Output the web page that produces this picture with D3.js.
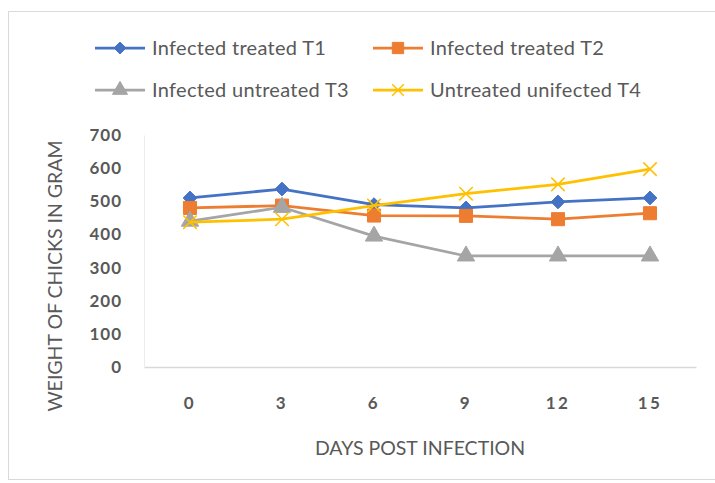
<!DOCTYPE html>
<html><head><meta charset="utf-8">
<script src="https://cdn.jsdelivr.net/npm/d3@7"></script>
<style>body{margin:0;background:#fff;} text{font-family:Lato, "Open Sans", sans-serif;}</style>
</head><body>
<svg id="c" width="715" height="483"></svg>
<script>
const days = ["0","3","6","9","12","15"];
const seriesNames = ["Infected treated T1","Infected treated T2","Infected untreated T3","Untreated unifected T4"];
const t1 = [510, 537, 490, 480, 498, 510];
const t2 = [480, 487, 457, 456, 446, 464];
const t3 = [440, 482, 395, 335, 335, 335];
const t4 = [437, 446, 487, 523, 551, 597];
const yTicks = [0,100,200,300,400,500,600,700];
const colors = ["#4472C4","#ED7D31","#A5A5A5","#FFC000"];
const symbols = [d3.symbolDiamond2, d3.symbolSquare, d3.symbolTriangle, d3.symbolX];
const allSeries = [t1,t2,t3,t4];

const svg = d3.select("#c");
svg.append("rect").attr("x",8.5).attr("y",11.5).attr("width",720).attr("height",468)
  .attr("fill","#fff").attr("stroke","#d9d9d9");

const x = d3.scaleBand().domain(days).range([144,696]);
const y = d3.scaleLinear().domain([0,700]).range([367,135]);

// axes
const xa = svg.append("g").attr("transform","translate(0,367)")
  .call(d3.axisBottom(x).tickSize(0).tickPadding(30));
xa.select(".domain").attr("stroke","#d9d9d9").attr("stroke-width",1.5);
xa.selectAll("text").attr("fill","#595959").style("font-size","17px").style("font-weight","bold").style("letter-spacing","2.5px");

const ya = svg.append("g").attr("transform","translate(144,0)")
  .call(d3.axisLeft(y).tickValues(yTicks).tickSize(0).tickPadding(22));
ya.select(".domain").attr("stroke","#ececec").attr("stroke-width",1);
ya.selectAll("text").attr("fill","#595959").style("font-size","17px").style("font-weight","bold").style("letter-spacing","1px");

svg.append("text").attr("x",420).attr("y",455).attr("text-anchor","middle")
  .attr("fill","#595959").style("font-size","19.5px").text("DAYS POST INFECTION");
svg.append("text").attr("transform","translate(62,276) rotate(-90)").attr("text-anchor","middle")
  .attr("fill","#595959").style("font-size","19.5px").text("WEIGHT OF CHICKS IN GRAM");

const line = d3.line().x((d,i)=>x(days[i])+x.bandwidth()/2).y(d=>y(d));
const symSizes = [120, 170, 130, 120];

allSeries.forEach((s,k)=>{
  svg.append("path").datum(s).attr("d",line).attr("fill","none")
    .attr("stroke",colors[k]).attr("stroke-width",2.75).attr("stroke-linejoin","round");
  svg.selectAll(".m"+k).data(s).enter().append("path")
    .attr("transform",(d,i)=>`translate(${x(days[i])+x.bandwidth()/2},${y(d)})`)
    .attr("d",d3.symbol().type(symbols[k]).size(symSizes[k]))
    .attr("fill",k===3?"none":colors[k]).attr("stroke",colors[k]).attr("stroke-width",k===3?1.5:1);
});

// legend
const legPos = [[95,48],[373,48],[95,90],[373,90]];
seriesNames.forEach((n,k)=>{
  const [lx,ly] = legPos[k];
  svg.append("line").attr("x1",lx).attr("x2",lx+50).attr("y1",ly).attr("y2",ly)
    .attr("stroke",colors[k]).attr("stroke-width",2.75);
  svg.append("path").attr("transform",`translate(${lx+25},${ly})`)
    .attr("d",d3.symbol().type(symbols[k]).size(symSizes[k]*0.75))
    .attr("fill",k===3?"none":colors[k]).attr("stroke",colors[k]).attr("stroke-width",k===3?1.5:1);
  svg.append("text").attr("x",lx+57).attr("y",ly).attr("dy","0.35em")
    .attr("fill","#595959").style("font-size","20px").style("letter-spacing","0.3px").text(n);
});
</script>
</body></html>
